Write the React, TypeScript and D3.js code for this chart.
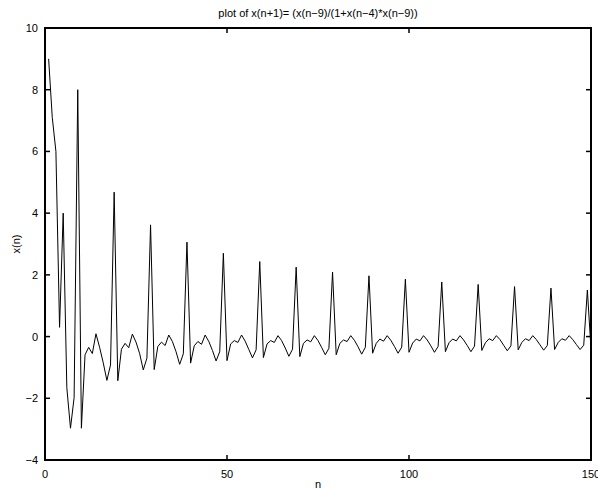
import React from "react";
import * as d3 from "d3";

const titleText = "plot of x(n+1)= (x(n\u22129)/(1+x(n\u22124)*x(n\u22129))";
const xLabel = "n";
const yLabel = "x(n)";
const xTicks = [0, 50, 100, 150];
const yTicks = [-4, -2, 0, 2, 4, 6, 8, 10];
const xDomain = [0, 150];
const yDomain = [-4, 10];

// x(n) values for n = 1..150
const series = [
  9, 7.1, 6, 0.3, 4, -1.66, -2.97, -1.98, 8, -2.97,
  -0.59, -0.35, -0.55, 0.09, -0.35, -0.85, -1.42, -0.92, 4.68, -1.43,
  -0.41, -0.22, -0.36, 0.08, -0.18, -0.55, -1.08, -0.7, 3.62, -1.07,
  -0.32, -0.18, -0.29, 0.05, -0.16, -0.49, -0.9, -0.56, 3.06, -0.86,
  -0.3, -0.16, -0.25, 0.05, -0.16, -0.45, -0.79, -0.49, 2.7, -0.78,
  -0.24, -0.13, -0.19, 0.05, -0.15, -0.42, -0.69, -0.43, 2.43, -0.68,
  -0.24, -0.13, -0.19, 0.03, -0.13, -0.37, -0.64, -0.41, 2.25, -0.65,
  -0.22, -0.11, -0.17, 0.03, -0.13, -0.35, -0.59, -0.38, 2.09, -0.59,
  -0.22, -0.11, -0.16, 0.03, -0.12, -0.33, -0.57, -0.35, 1.97, -0.54,
  -0.22, -0.08, -0.15, 0.03, -0.12, -0.32, -0.54, -0.34, 1.86, -0.51,
  -0.21, -0.08, -0.14, 0.03, -0.11, -0.3, -0.51, -0.32, 1.77, -0.49,
  -0.2, -0.08, -0.14, 0.03, -0.11, -0.29, -0.49, -0.31, 1.69, -0.45,
  -0.2, -0.07, -0.13, 0.03, -0.1, -0.28, -0.46, -0.3, 1.62, -0.43,
  -0.19, -0.07, -0.13, 0.03, -0.1, -0.27, -0.44, -0.29, 1.57, -0.42,
  -0.19, -0.07, -0.12, 0.03, -0.1, -0.26, -0.42, -0.28, 1.51, -0.41,
];
const firstN = 1;

const W = 598;
const H = 489;
const left = 45;
const right = 591;
const top = 28;
const bottom = 460;
const tickLen = 5;
const font = "Arial, 'Liberation Sans', Helvetica, sans-serif";

export default function App() {
  const x = d3.scaleLinear().domain(xDomain).range([left, right]);
  const y = d3.scaleLinear().domain(yDomain).range([bottom, top]);
  const pts = series.map((v, i) => [firstN + i, v] as [number, number]);
  const line = d3
    .line<[number, number]>()
    .x((d) => x(d[0]))
    .y((d) => y(d[1]));
  const fmt = (v: number) => (v < 0 ? "\u2212" + Math.abs(v) : String(v));

  return (
    <svg
      width={W}
      height={H}
      style={{ position: "absolute", left: 0, top: 0, background: "#fff" }}
      fontFamily={font}
    >
      <defs>
        <clipPath id="plotclip">
          <rect x={left} y={top} width={right - left} height={bottom - top} />
        </clipPath>
      </defs>
      <rect x={0} y={0} width={W} height={H} fill="#fff" />
      <path
        d={line(pts) || ""}
        fill="none"
        stroke="#000"
        strokeWidth={1}
        clipPath="url(#plotclip)"
      />
      {xTicks.map((t) => (
        <g key={"x" + t}>
          <line x1={x(t)} x2={x(t)} y1={bottom} y2={bottom - tickLen} stroke="#000" strokeWidth={1.5} />
          <line x1={x(t)} x2={x(t)} y1={top} y2={top + tickLen} stroke="#000" strokeWidth={1.5} />
          <text x={x(t)} y={478} fontSize={11} textAnchor="middle" fill="#000">
            {fmt(t)}
          </text>
        </g>
      ))}
      {yTicks.map((t) => (
        <g key={"y" + t}>
          <line x1={left} x2={left + tickLen} y1={y(t)} y2={y(t)} stroke="#000" strokeWidth={1.5} />
          <line x1={right} x2={right - tickLen} y1={y(t)} y2={y(t)} stroke="#000" strokeWidth={1.5} />
          <text x={38} y={y(t) + 4} fontSize={11} textAnchor="end" fill="#000">
            {fmt(t)}
          </text>
        </g>
      ))}
      <rect
        x={left}
        y={top}
        width={right - left}
        height={bottom - top}
        fill="none"
        stroke="#000"
        strokeWidth={2}
      />
      <text x={(left + right) / 2} y={17} fontSize={11} textAnchor="middle" fill="#000">
        {titleText}
      </text>
      <text x={(left + right) / 2} y={488} fontSize={11} textAnchor="middle" fill="#000">
        {xLabel}
      </text>
      <text
        transform={`translate(20, ${(top + bottom) / 2}) rotate(-90)`}
        fontSize={11}
        textAnchor="middle"
        fill="#000"
      >
        {yLabel}
      </text>
    </svg>
  );
}
